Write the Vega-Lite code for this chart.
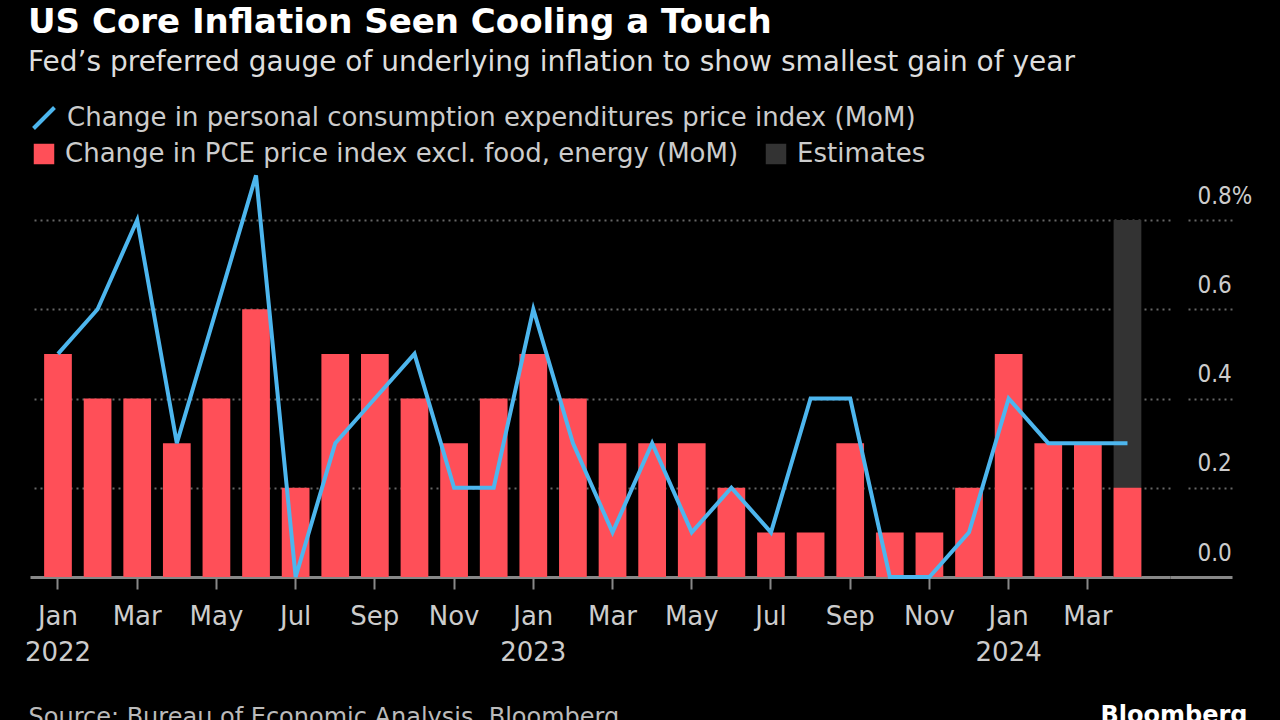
{
  "$schema": "https://vega.github.io/schema/vega-lite/v6.json",
  "width": 1140,
  "height": 357,
  "autosize": "none",
  "padding": {"left": 30, "top": 220, "right": 110, "bottom": 143},
  "background": "#000000",
  "config": {
    "view": {"stroke": null},
    "font": "DejaVu Sans"
  },
  "title": {
    "text": "US Core Inflation Seen Cooling a Touch",
    "subtitle": "Fed’s preferred gauge of underlying inflation to show smallest gain of year",
    "anchor": "start",
    "frame": "group",
    "dx": -2,
    "offset": 28,
    "font": "DejaVu Sans",
    "fontSize": 34,
    "fontWeight": "bold",
    "color": "#ffffff",
    "subtitleFont": "DejaVu Sans",
    "subtitleFontSize": 28,
    "subtitleColor": "#dddddd",
    "subtitlePadding": 9
  },
  "data": {
    "values": [
      {"date": "2022-01-01", "headline": 0.5, "core": 0.5},
      {"date": "2022-02-01", "headline": 0.6, "core": 0.4},
      {"date": "2022-03-01", "headline": 0.8, "core": 0.4},
      {"date": "2022-04-01", "headline": 0.3, "core": 0.3},
      {"date": "2022-05-01", "headline": 0.6, "core": 0.4},
      {"date": "2022-06-01", "headline": 0.9, "core": 0.6},
      {"date": "2022-07-01", "headline": 0.0, "core": 0.2},
      {"date": "2022-08-01", "headline": 0.3, "core": 0.5},
      {"date": "2022-09-01", "headline": 0.4, "core": 0.5},
      {"date": "2022-10-01", "headline": 0.5, "core": 0.4},
      {"date": "2022-11-01", "headline": 0.2, "core": 0.3},
      {"date": "2022-12-01", "headline": 0.2, "core": 0.4},
      {"date": "2023-01-01", "headline": 0.6, "core": 0.5},
      {"date": "2023-02-01", "headline": 0.3, "core": 0.4},
      {"date": "2023-03-01", "headline": 0.1, "core": 0.3},
      {"date": "2023-04-01", "headline": 0.3, "core": 0.3},
      {"date": "2023-05-01", "headline": 0.1, "core": 0.3},
      {"date": "2023-06-01", "headline": 0.2, "core": 0.2},
      {"date": "2023-07-01", "headline": 0.1, "core": 0.1},
      {"date": "2023-08-01", "headline": 0.4, "core": 0.1},
      {"date": "2023-09-01", "headline": 0.4, "core": 0.3},
      {"date": "2023-10-01", "headline": 0.0, "core": 0.1},
      {"date": "2023-11-01", "headline": 0.0, "core": 0.1},
      {"date": "2023-12-01", "headline": 0.1, "core": 0.2},
      {"date": "2024-01-01", "headline": 0.4, "core": 0.5},
      {"date": "2024-02-01", "headline": 0.3, "core": 0.3},
      {"date": "2024-03-01", "headline": 0.3, "core": 0.3},
      {"date": "2024-04-01", "headline": 0.3, "core": 0.2, "est": 0.8}
    ]
  },
  "encoding": {
    "x": {
      "field": "date",
      "timeUnit": "utcyearmonth",
      "type": "ordinal",
      "scale": {"paddingInner": 0.3, "paddingOuter": 0.54, "align": 0.33},
      "axis": {
        "title": "Source: Bureau of Economic Analysis, Bloomberg",
        "titleAnchor": "start",
        "titleAlign": "left",
        "titleBaseline": "alphabetic",
        "titleX": -2,
        "titleY": 147,
        "titleFont": "DejaVu Sans",
        "titleFontSize": 24,
        "titleFontWeight": "normal",
        "titleColor": "#bbbbbb",
        "domainColor": "#888888",
        "domainWidth": 3,
        "tickColor": "#888888",
        "tickWidth": 2,
        "tickSize": 12,
        "tickOpacity": {"condition": {"test": "utcmonth(datum.value) % 2 == 1", "value": 0}, "value": 1},
        "labelExpr": "utcmonth(datum.value) % 2 == 0 ? [utcFormat(datum.value, '%b'), utcmonth(datum.value) == 0 ? utcFormat(datum.value, '%Y') : ''] : ''",
        "labelAngle": 0,
        "labelAlign": "center",
        "labelBaseline": "top",
        "labelPadding": 14,
        "labelFont": "DejaVu Sans",
        "labelFontSize": 26,
        "labelColor": "#cccccc",
        "labelLineHeight": 36,
        "labelOverlap": false,
        "labelBound": false,
        "labelFlush": false,
        "grid": false
      }
    }
  },
  "layer": [
    {
      "mark": {"type": "bar"},
      "encoding": {
        "y": {
          "field": "est",
          "type": "quantitative",
          "scale": {"domain": [0, 0.8], "nice": false},
          "axis": {
            "orient": "right",
            "values": [0, 0.2, 0.4, 0.6, 0.8],
            "grid": true,
            "gridColor": "#666666",
            "gridDash": [2, 4],
            "gridWidth": 2,
            "gridOpacity": {"condition": {"test": "datum.value === 0", "value": 0}, "value": 1},
            "domain": false,
            "tickSize": 62,
            "tickColor": {"condition": {"test": "datum.value === 0", "value": "#888888"}, "value": "#666666"},
            "tickWidth": {"condition": {"test": "datum.value === 0", "value": 3}, "value": 2},
            "tickDash": {"condition": {"test": "datum.value === 0", "value": []}, "value": [0, 18, 2, 4, 2, 4, 2, 4, 2, 4, 2, 4, 2, 4, 2, 4, 2, 100]},
            "labelExpr": "datum.value == 0.8 ? '0.8%' : format(datum.value, '.1f')",
            "labelAlign": "left",
            "labelBaseline": "alphabetic",
            "labelOffset": -17,
            "labelPadding": -35,
            "labelFont": "DejaVu Sans Condensed",
            "labelFontSize": 24,
            "labelColor": "#cccccc",
            "title": "Bloomberg",
            "titleAngle": 0,
            "titleX": -70,
            "titleY": 502,
            "titleAlign": "left",
            "titleBaseline": "alphabetic",
            "titleFont": "DejaVu Sans",
            "titleFontSize": 24,
            "titleFontWeight": "bold",
            "titleColor": "#ffffff"
          }
        },
        "fill": {
          "datum": "Estimates",
          "scale": {
            "domain": ["Change in PCE price index excl. food, energy (MoM)", "Estimates"],
            "range": ["#ff4f58", "#333333"]
          },
          "legend": {
            "orient": "none",
            "legendX": 1,
            "legendY": -79,
            "direction": "horizontal",
            "title": null,
            "padding": 0,
            "symbolType": "square",
            "symbolSize": 420,
            "symbolStrokeWidth": 0,
            "labelFont": "DejaVu Sans",
            "labelFontSize": 26,
            "labelColor": "#cccccc",
            "labelOffset": 8,
            "labelLimit": 0,
            "columnPadding": 24
          }
        }
      }
    },
    {
      "mark": {"type": "bar"},
      "encoding": {
        "y": {
          "field": "core",
          "type": "quantitative",
          "scale": {"domain": [0, 0.8], "nice": false},
          "axis": {
            "orient": "right",
            "values": [0, 0.2, 0.4, 0.6, 0.8],
            "grid": true,
            "gridColor": "#666666",
            "gridDash": [2, 4],
            "gridWidth": 2,
            "gridOpacity": {"condition": {"test": "datum.value === 0", "value": 0}, "value": 1},
            "domain": false,
            "tickSize": 62,
            "tickColor": {"condition": {"test": "datum.value === 0", "value": "#888888"}, "value": "#666666"},
            "tickWidth": {"condition": {"test": "datum.value === 0", "value": 3}, "value": 2},
            "tickDash": {"condition": {"test": "datum.value === 0", "value": []}, "value": [0, 18, 2, 4, 2, 4, 2, 4, 2, 4, 2, 4, 2, 4, 2, 4, 2, 100]},
            "labelExpr": "datum.value == 0.8 ? '0.8%' : format(datum.value, '.1f')",
            "labelAlign": "left",
            "labelBaseline": "alphabetic",
            "labelOffset": -17,
            "labelPadding": -35,
            "labelFont": "DejaVu Sans Condensed",
            "labelFontSize": 24,
            "labelColor": "#cccccc",
            "title": "Bloomberg",
            "titleAngle": 0,
            "titleX": -70,
            "titleY": 502,
            "titleAlign": "left",
            "titleBaseline": "alphabetic",
            "titleFont": "DejaVu Sans",
            "titleFontSize": 24,
            "titleFontWeight": "bold",
            "titleColor": "#ffffff"
          }
        },
        "fill": {"datum": "Change in PCE price index excl. food, energy (MoM)"}
      }
    },
    {
      "mark": {"type": "line", "strokeWidth": 4, "clip": false},
      "encoding": {
        "y": {
          "field": "headline",
          "type": "quantitative",
          "scale": {"domain": [0, 0.8], "nice": false},
          "axis": {
            "orient": "right",
            "values": [0, 0.2, 0.4, 0.6, 0.8],
            "grid": true,
            "gridColor": "#666666",
            "gridDash": [2, 4],
            "gridWidth": 2,
            "gridOpacity": {"condition": {"test": "datum.value === 0", "value": 0}, "value": 1},
            "domain": false,
            "tickSize": 62,
            "tickColor": {"condition": {"test": "datum.value === 0", "value": "#888888"}, "value": "#666666"},
            "tickWidth": {"condition": {"test": "datum.value === 0", "value": 3}, "value": 2},
            "tickDash": {"condition": {"test": "datum.value === 0", "value": []}, "value": [0, 18, 2, 4, 2, 4, 2, 4, 2, 4, 2, 4, 2, 4, 2, 4, 2, 100]},
            "labelExpr": "datum.value == 0.8 ? '0.8%' : format(datum.value, '.1f')",
            "labelAlign": "left",
            "labelBaseline": "alphabetic",
            "labelOffset": -17,
            "labelPadding": -35,
            "labelFont": "DejaVu Sans Condensed",
            "labelFontSize": 24,
            "labelColor": "#cccccc",
            "title": "Bloomberg",
            "titleAngle": 0,
            "titleX": -70,
            "titleY": 502,
            "titleAlign": "left",
            "titleBaseline": "alphabetic",
            "titleFont": "DejaVu Sans",
            "titleFontSize": 24,
            "titleFontWeight": "bold",
            "titleColor": "#ffffff"
          }
        },
        "stroke": {
          "datum": "Change in personal consumption expenditures price index (MoM)",
          "scale": {"range": ["#4db6ee"]},
          "legend": {
            "orient": "none",
            "legendX": 1,
            "legendY": -115,
            "title": null,
            "padding": 0,
            "symbolType": "M-1,1L1,-1",
            "symbolSize": 440,
            "symbolStrokeWidth": 4,
            "labelFont": "DejaVu Sans",
            "labelFontSize": 26,
            "labelColor": "#cccccc",
            "labelOffset": 10,
            "labelLimit": 0
          }
        }
      }
    }
  ]
}
